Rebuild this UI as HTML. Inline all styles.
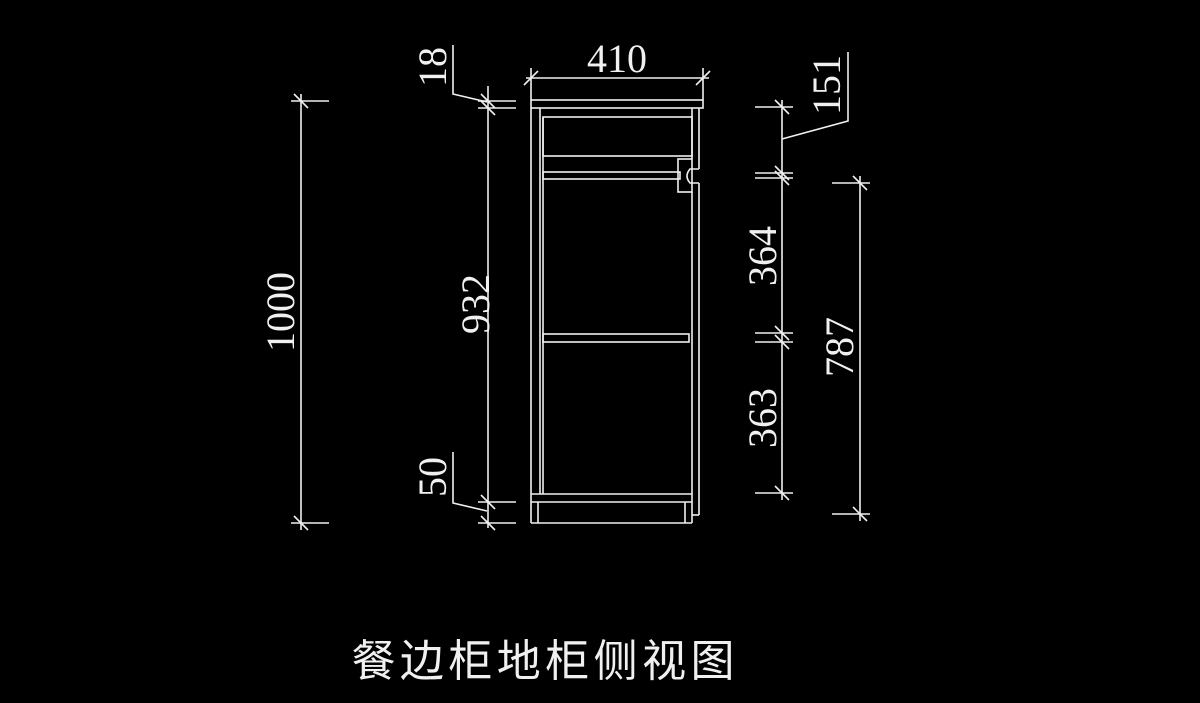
<!DOCTYPE html>
<html><head><meta charset="utf-8"><style>
html,body{margin:0;padding:0;background:#000;}
svg{display:block}
text{font-family:"Liberation Serif",serif;fill:#f0f0f0;font-size:40px}
.t{font-family:"Liberation Sans","Noto Sans CJK SC",sans-serif;font-size:44px}
</style></head><body>
<svg width="1200" height="703" viewBox="0 0 1200 703" xmlns="http://www.w3.org/2000/svg">
<g stroke="#f0f0f0" stroke-width="1.6" fill="none">
<!-- cabinet -->
<rect x="531" y="100" width="172" height="8"/>
<line x1="531" y1="108" x2="531" y2="523"/>
<line x1="540" y1="108" x2="540" y2="494"/>
<line x1="543" y1="117" x2="543" y2="494"/>
<rect x="543" y="117" width="149" height="39"/>
<rect x="543" y="172" width="137" height="7"/>
<rect x="543" y="334" width="146" height="8"/>
<line x1="692" y1="108" x2="692" y2="159"/>
<line x1="699" y1="108" x2="699" y2="169"/>
<path d="M699 169 H690 Q684 176 690 183 H699"/>
<rect x="678" y="159" width="14" height="33"/>
<line x1="692" y1="192" x2="692" y2="494"/>
<line x1="699" y1="183" x2="699" y2="515"/>
<line x1="692" y1="515" x2="699" y2="515"/>
<line x1="531" y1="494" x2="692" y2="494"/>
<line x1="531" y1="502" x2="692" y2="502"/>
<line x1="531" y1="523" x2="692" y2="523"/>
<line x1="692" y1="494" x2="692" y2="523"/>
<line x1="538" y1="502" x2="538" y2="523"/>
<line x1="685" y1="502" x2="685" y2="523"/>
<!-- 410 -->
<line x1="526" y1="78" x2="709" y2="78"/>
<line x1="531" y1="68" x2="531" y2="100"/>
<line x1="703" y1="68" x2="703" y2="100"/>
<line x1="524" y1="85" x2="538" y2="71"/>
<line x1="696" y1="85" x2="710" y2="71"/>
<!-- 1000 -->
<line x1="301" y1="94" x2="301" y2="530"/>
<line x1="291" y1="101" x2="329" y2="101"/>
<line x1="291" y1="523" x2="329" y2="523"/>
<line x1="294" y1="94" x2="308" y2="108"/>
<line x1="294" y1="516" x2="308" y2="530"/>
<!-- 932 / 18 / 50 -->
<line x1="488" y1="86" x2="488" y2="528"/>
<line x1="478" y1="101" x2="516" y2="101"/>
<line x1="478" y1="108" x2="516" y2="108"/>
<line x1="478" y1="502" x2="516" y2="502"/>
<line x1="478" y1="523" x2="516" y2="523"/>
<line x1="481" y1="94" x2="495" y2="108"/>
<line x1="481" y1="101" x2="495" y2="115"/>
<line x1="481" y1="495" x2="495" y2="509"/>
<line x1="481" y1="516" x2="495" y2="530"/>
<polyline points="487,102 453,94 453,45"/>
<polyline points="487,511 453,503 453,452"/>
<!-- 151/364/363 -->
<line x1="782" y1="100" x2="782" y2="500"/>
<line x1="755" y1="107" x2="793" y2="107"/>
<line x1="755" y1="173" x2="793" y2="173"/>
<line x1="755" y1="178" x2="793" y2="178"/>
<line x1="755" y1="333" x2="793" y2="333"/>
<line x1="755" y1="342" x2="793" y2="342"/>
<line x1="755" y1="493" x2="793" y2="493"/>
<line x1="775" y1="100" x2="789" y2="114"/>
<line x1="775" y1="166" x2="789" y2="180"/>
<line x1="775" y1="171" x2="789" y2="185"/>
<line x1="775" y1="326" x2="789" y2="340"/>
<line x1="775" y1="335" x2="789" y2="349"/>
<line x1="775" y1="486" x2="789" y2="500"/>
<polyline points="782,139 848,121 848,52"/>
<!-- 787 -->
<line x1="860" y1="176" x2="860" y2="521"/>
<line x1="832" y1="183" x2="870" y2="183"/>
<line x1="832" y1="514" x2="870" y2="514"/>
<line x1="853" y1="176" x2="867" y2="190"/>
<line x1="853" y1="507" x2="867" y2="521"/>
</g>
<text x="617" y="72" text-anchor="middle">410</text>
<text transform="translate(294,312) rotate(-90)" text-anchor="middle">1000</text>
<text transform="translate(489,304) rotate(-90)" text-anchor="middle">932</text>
<text transform="translate(446,67) rotate(-90)" text-anchor="middle">18</text>
<text transform="translate(446,477) rotate(-90)" text-anchor="middle">50</text>
<text transform="translate(776,256) rotate(-90)" text-anchor="middle">364</text>
<text transform="translate(776,418) rotate(-90)" text-anchor="middle">363</text>
<text transform="translate(853,347) rotate(-90)" text-anchor="middle">787</text>
<text transform="translate(840,85) rotate(-90)" text-anchor="middle">151</text>
<text class="t" x="543" y="676" text-anchor="middle" textLength="383">餐边柜地柜侧视图</text>
</svg>
</body></html>
